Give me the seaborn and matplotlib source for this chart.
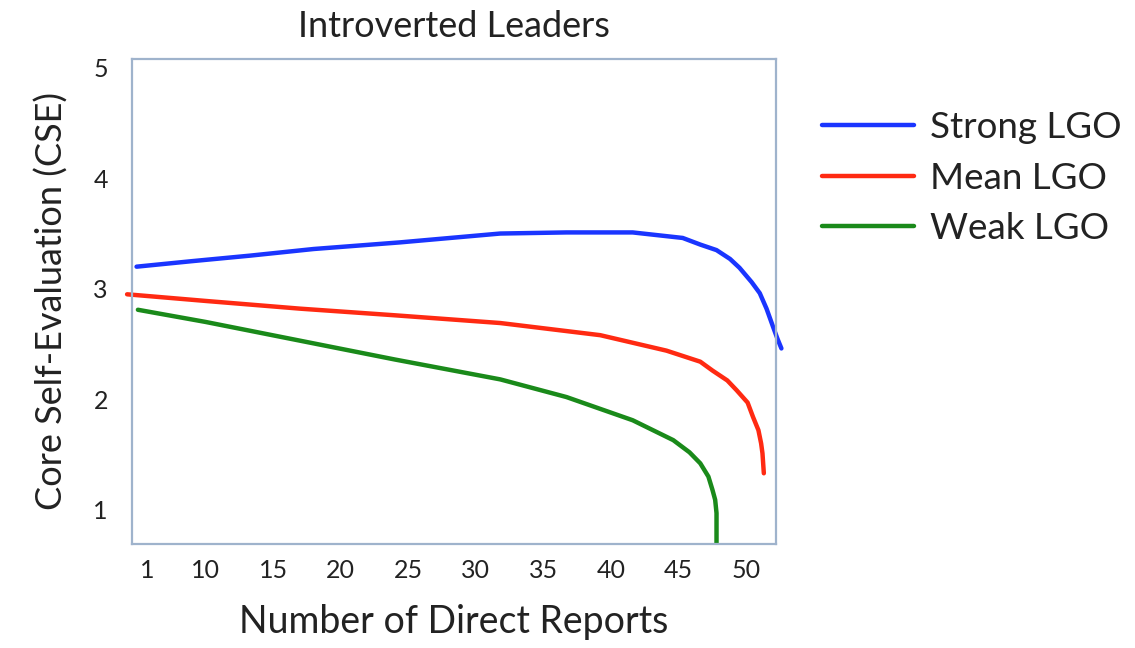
import numpy as np
import pandas as pd
import matplotlib
matplotlib.use("Agg")
import matplotlib.pyplot as plt
import seaborn as sns

# values
strong_x = [4.9, 9.0, 13.3, 18.0, 24.4, 31.8, 36.7, 41.6, 45.3, 46.6, 47.8, 48.8,
            49.5, 50.4, 51.0, 51.5, 52.0, 52.3, 52.6]
strong_y = [3.20, 3.25, 3.30, 3.36, 3.42, 3.50, 3.51, 3.51, 3.46, 3.40, 3.35, 3.27,
            3.19, 3.06, 2.96, 2.82, 2.65, 2.55, 2.46]

mean_x = [4.2, 10.0, 17.0, 24.0, 31.8, 39.2, 44.1, 46.6, 47.5, 48.6, 49.3, 50.1,
          50.5, 50.9, 51.1, 51.2, 51.3]
mean_y = [2.95, 2.89, 2.82, 2.76, 2.69, 2.58, 2.44, 2.34, 2.26, 2.17, 2.08, 1.97,
          1.84, 1.72, 1.60, 1.51, 1.33]

weak_x = [5.0, 10.0, 17.0, 24.0, 31.8, 36.7, 41.6, 44.6, 45.8, 46.6, 47.2, 47.5,
          47.7, 47.8, 47.8]
weak_y = [2.81, 2.70, 2.53, 2.36, 2.18, 2.02, 1.81, 1.63, 1.52, 1.42, 1.30, 1.18,
          1.09, 0.97, 0.70]

series_names = ["Strong LGO", "Mean LGO", "Weak LGO"]
series_colors = ["#1a35ff", "#ff2a12", "#1a8a1a"]

tick_pos = [5.7, 10, 15, 20, 25, 30, 35, 40, 45, 50]
tick_labels = ["1", "10", "15", "20", "25", "30", "35", "40", "45", "50"]
y_ticks = [1, 2, 3, 4, 5]

frames = []
for name, xs, ys in zip(series_names, [strong_x, mean_x, weak_x], [strong_y, mean_y, weak_y]):
    frames.append(pd.DataFrame({"reports": xs, "cse": ys, "group": name}))
df = pd.concat(frames, ignore_index=True)

sns.set_theme(style="white")
plt.rcParams["font.family"] = ["Lato", "DejaVu Sans"]

fig = plt.figure(figsize=(11.35, 6.48), dpi=100)
ax = fig.add_axes([0.1159, 0.1605, 0.5678, 0.7485])

sns.lineplot(data=df, x="reports", y="cse", hue="group", hue_order=series_names,
             palette=series_colors, sort=False, estimator=None, linewidth=3.2,
             ax=ax, clip_on=False)

ax.set_xlim(4.53, 52.2)
ax.set_ylim(0.69, 5.08)
ax.set_xticks(tick_pos)
ax.set_xticklabels(tick_labels)
ax.set_yticks(y_ticks)
ax.tick_params(axis="x", length=0, pad=11, labelsize=18, colors="#222222")
ax.tick_params(axis="y", length=0, pad=17, labelsize=18, colors="#222222")
for sp in ax.spines.values():
    sp.set_color("#9fb3cc")
    sp.set_linewidth(1.6)

ax.set_xlabel("Number of Direct Reports", fontsize=27, color="#222222", labelpad=16)
ax.set_ylabel("Core Self-Evaluation (CSE)", fontsize=26, color="#222222", labelpad=18)
ax.set_title("Introverted Leaders", fontsize=26, color="#222222", pad=16)

leg = ax.legend(loc="upper left", bbox_to_anchor=(1.071, 0.893), frameon=False,
                borderaxespad=0, borderpad=0,
                fontsize=26.5, handlelength=2.5, handletextpad=0.45, labelspacing=0.48)
for line in leg.get_lines():
    line.set_linewidth(3.2)
for t in leg.get_texts():
    t.set_color("#222222")

fig.savefig("out.png", dpi=100)
